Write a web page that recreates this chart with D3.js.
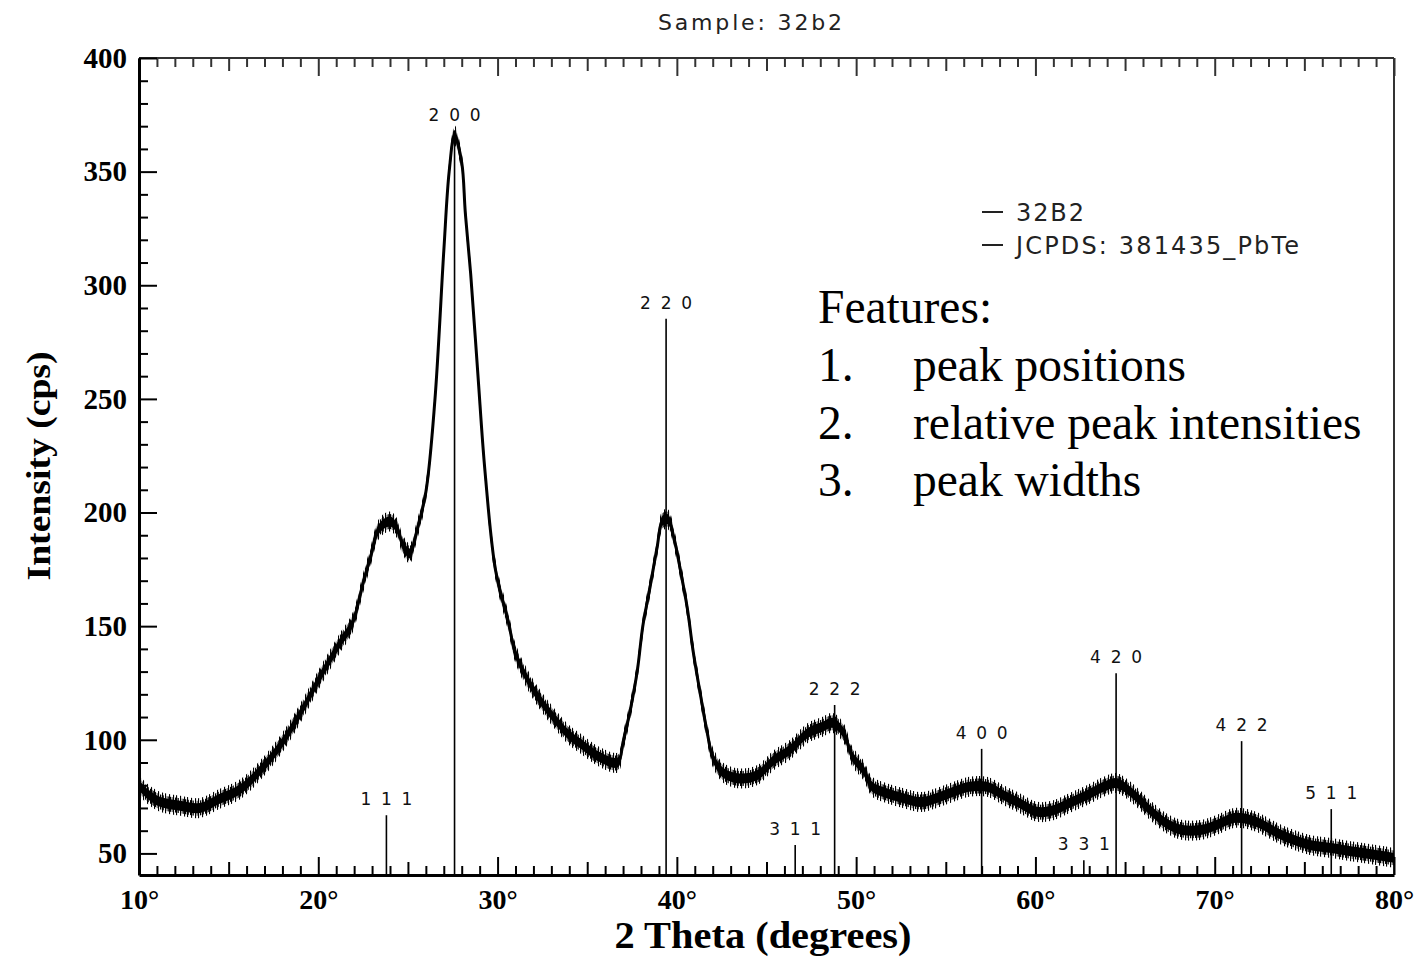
<!DOCTYPE html>
<html>
<head>
<meta charset="utf-8">
<script src="https://cdn.jsdelivr.net/npm/d3@7"></script>
<style>
  html, body { margin: 0; padding: 0; background: #fff; }
  svg { display: block; }
</style>
</head>
<body>
<svg id="chart" width="1418" height="961"></svg>
<script>
// ---- data ----
const twoTheta = [10.0, 10.5, 11.2, 12.3, 13.4, 14.5, 15.6, 16.7, 17.9, 19.0, 20.1, 21.2, 21.9, 22.5, 22.9, 23.4, 24.0, 24.4, 24.7, 25.1, 25.5, 26.0, 26.5, 27.0, 27.3, 27.6, 28.0, 28.2, 28.5, 28.9, 29.3, 29.9, 30.6, 31.0, 32.0, 33.0, 34.0, 34.6, 35.7, 36.7, 37.0, 37.4, 37.8, 38.1, 38.5, 38.9, 39.2, 39.5, 39.9, 40.2, 40.6, 40.9, 41.3, 41.7, 42.0, 42.6, 43.5, 44.5, 45.4, 46.3, 47.3, 48.1, 48.7, 49.3, 49.8, 50.4, 50.9, 51.7, 52.6, 53.6, 54.5, 55.4, 56.3, 57.3, 58.2, 59.1, 60.1, 61.0, 61.9, 62.9, 63.8, 64.5, 65.4, 66.4, 67.3, 68.2, 69.2, 70.1, 71.0, 71.6, 72.5, 73.5, 74.4, 75.3, 76.6, 77.9, 79.0, 80.0];
const intensity = [80, 76, 72.6, 71, 70, 74, 78, 86, 97.7, 111.7, 127.6, 142.5, 151.3, 169, 180, 193, 196, 193, 186, 182, 192, 209, 249, 315, 350, 366, 354, 332, 305, 261, 218, 174, 152, 138, 122, 111, 102, 98.5, 92.4, 90, 99, 113, 130.7, 150, 167, 184.7, 196.5, 197, 186.5, 174.6, 157, 139.4, 120.5, 103, 92.4, 85.4, 83, 84.5, 91, 95.5, 103, 105.6, 107.4, 103, 92.4, 86.7, 79.3, 76.5, 74.4, 72.6, 74.4, 77, 79.3, 79.3, 75.7, 72.2, 68.3, 69, 72.2, 75.7, 79.3, 81, 76.5, 69, 63.3, 60.3, 60.3, 62.5, 65.5, 65.5, 63.3, 59, 56, 53.7, 52.3, 50.6, 49.3, 48];

// JCPDS 38-1435 PbTe reference lines
const refHKL = ["111", "200", "220", "311", "222", "400", "331", "420", "422", "511"];
const refPos = [23.8, 27.6, 39.4, 46.6, 48.8, 57.0, 62.7, 64.5, 71.5, 76.5];
const refHeight = [66.8, 368, 285.3, 53.7, 115.3, 96, 47, 129.3, 99.4, 69.5];

const xTickLabels = [10, 20, 30, 40, 50, 60, 70, 80];
const yTickLabels = [50, 100, 150, 200, 250, 300, 350, 400];

const titleText = "Sample:  32b2";
const legendItems = ["32B2", "JCPDS: 381435_PbTe"];
const featureNums = ["1.", "2.", "3."];
const featureItems = ["peak positions", "relative peak intensities", "peak widths"];

// ---- drawing ----
const svg = d3.select("#chart");
const L = 139, R = 1394, T = 58, B = 875;
const x = d3.scaleLinear().domain([10, 80]).range([L, R]);
const y = d3.scaleLinear().domain([40.5, 400]).range([B, T]);

const serif = "'Liberation Serif', 'Times New Roman', serif";
const mono = "'DejaVu Sans Mono', monospace";
const sans = "'DejaVu Sans', sans-serif";

// noise-texture patterns (vertical hatching) for the measured trace
const defs = svg.append("defs");
function hatch(id, w, xs, lw) {
  const p = defs.append("pattern").attr("id", id).attr("patternUnits", "userSpaceOnUse")
    .attr("width", w).attr("height", 4);
  xs.forEach(px => p.append("rect").attr("x", px).attr("y", 0).attr("width", lw).attr("height", 4).attr("fill", "#000"));
}
hatch("hatchOuter", 11, [0, 4, 8], 1.1);
hatch("hatchMid", 5, [0, 2.5], 1.3);

// title
svg.append("text").attr("x", 750).attr("y", 30).attr("text-anchor", "middle")
  .attr("font-family", sans).attr("font-size", 22).attr("fill", "#222")
  .attr("textLength", 184).attr("lengthAdjust", "spacing")
  .text(titleText);

// frame: top & right
svg.append("line").attr("x1", L).attr("x2", R).attr("y1", T).attr("y2", T)
  .attr("stroke", "#333").attr("stroke-width", 2);
svg.append("line").attr("x1", R).attr("x2", R).attr("y1", T).attr("y2", B)
  .attr("stroke", "#333").attr("stroke-width", 2);

// x ticks (bottom & top), inward
const xMinor = d3.range(10, 81, 1);
const tickLen = d => (d % 10 === 0 ? 18 : d % 5 === 0 ? 13 : 9);
function styleAxis(g) {
  g.select(".domain").attr("stroke", "#000").attr("stroke-width", 3);
  g.selectAll(".tick line").attr("stroke", "#000").attr("stroke-width", 2);
}
const gxb = svg.append("g").attr("transform", `translate(0,${B})`)
  .call(d3.axisBottom(x).tickValues(xMinor).tickSizeOuter(0).tickFormat(""));
gxb.selectAll(".tick line").attr("y2", d => -tickLen(d));
styleAxis(gxb);

const gxt = svg.append("g").attr("transform", `translate(0,${T})`)
  .call(d3.axisTop(x).tickValues(xMinor).tickSizeOuter(0).tickFormat(""));
gxt.selectAll(".tick line").attr("y2", d => tickLen(d)).attr("stroke", "#333").attr("stroke-width", 2);
gxt.select(".domain").remove();

// x labels
const gxl = svg.append("g").attr("transform", `translate(0,${B})`)
  .call(d3.axisBottom(x).tickValues(xTickLabels).tickSize(0).tickPadding(14)
    .tickFormat(d => d + "°"));
gxl.select(".domain").remove();
gxl.selectAll("text").attr("font-family", serif).attr("font-weight", "bold")
  .attr("font-size", 28).attr("fill", "#000").attr("dy", "0.7em");

// y ticks
const yMinor = d3.range(50, 401, 10);
const gy = svg.append("g").attr("transform", `translate(${L},0)`)
  .call(d3.axisLeft(y).tickValues(yMinor).tickSizeOuter(0).tickFormat(""));
gy.selectAll(".tick line").attr("x2", d => (d % 50 === 0 ? 18 : 9));
styleAxis(gy);

const gyl = svg.append("g").attr("transform", `translate(${L},0)`)
  .call(d3.axisLeft(y).tickValues(yTickLabels).tickSize(0).tickPadding(12));
gyl.select(".domain").remove();
gyl.selectAll("text").attr("font-family", serif).attr("font-weight", "bold")
  .attr("font-size", 29).attr("fill", "#000");

// axis titles
svg.append("text").attr("x", 763).attr("y", 948).attr("text-anchor", "middle")
  .attr("font-family", serif).attr("font-weight", "bold").attr("font-size", 37)
  .attr("textLength", 297).attr("lengthAdjust", "spacingAndGlyphs")
  .text("2 Theta (degrees)");
svg.append("text").attr("transform", "translate(50,466) rotate(-90)")
  .attr("text-anchor", "middle")
  .attr("font-family", serif).attr("font-weight", "bold").attr("font-size", 33)
  .attr("textLength", 229).attr("lengthAdjust", "spacingAndGlyphs")
  .text("Intensity (cps)");

// data series: core trace plus a hatched noise band
const data = twoTheta.map((t, i) => ({ t, v: intensity[i] }));
const bandArea = h => d3.area().x(d => x(d.t)).y0(d => y(d.v) + h).y1(d => y(d.v) - h)
  .curve(d3.curveCatmullRom);
svg.append("path").datum(data).attr("d", bandArea(10)).attr("fill", "url(#hatchOuter)");
svg.append("path").datum(data).attr("d", bandArea(7.5)).attr("fill", "url(#hatchMid)");
svg.append("path").datum(data).attr("d", bandArea(5)).attr("fill", "#000");
svg.append("path").datum(data)
  .attr("d", d3.line().x(d => x(d.t)).y(d => y(d.v)).curve(d3.curveCatmullRom))
  .attr("fill", "none").attr("stroke", "#000").attr("stroke-width", 3);

// reference sticks
const refs = refHKL.map((h, i) => ({ h, p: refPos[i], v: refHeight[i] }));
svg.append("g").selectAll("line").data(refs).join("line")
  .attr("x1", d => x(d.p)).attr("x2", d => x(d.p))
  .attr("y1", y.range()[0]).attr("y2", d => y(d.v))
  .attr("stroke", "#000").attr("stroke-width", 1.6);
svg.append("g").selectAll("text").data(refs).join("text")
  .attr("x", d => x(d.p)).attr("y", d => y(d.v) - 10)
  .attr("text-anchor", "middle").attr("font-family", sans).attr("font-size", 17)
  .attr("fill", "#111")
  .attr("textLength", 52).attr("lengthAdjust", "spacing")
  .text(d => d.h);

// legend
const lg = svg.append("g");
legendItems.forEach((s, i) => {
  const yy = 212 + i * 33;
  lg.append("line").attr("x1", 982).attr("x2", 1003).attr("y1", yy).attr("y2", yy)
    .attr("stroke", "#222").attr("stroke-width", 2);
  lg.append("text").attr("x", 1016).attr("y", yy + 9).attr("font-family", sans)
    .attr("font-size", 24).attr("fill", "#222")
    .attr("textLength", i === 0 ? 68 : 283).attr("lengthAdjust", "spacing")
    .text(s);
});

// Features annotation
const fs = 47.5;
svg.append("text").attr("x", 818).attr("y", 323).attr("font-family", serif)
  .attr("font-size", fs).attr("fill", "#000").text("Features:");
featureItems.forEach((s, i) => {
  const yy = 381 + i * 57.6;
  svg.append("text").attr("x", 818).attr("y", yy).attr("font-family", serif)
    .attr("font-size", fs).attr("fill", "#000").text(featureNums[i]);
  svg.append("text").attr("x", 913).attr("y", yy).attr("font-family", serif)
    .attr("font-size", fs).attr("fill", "#000").text(s);
});
</script>
</body>
</html>
